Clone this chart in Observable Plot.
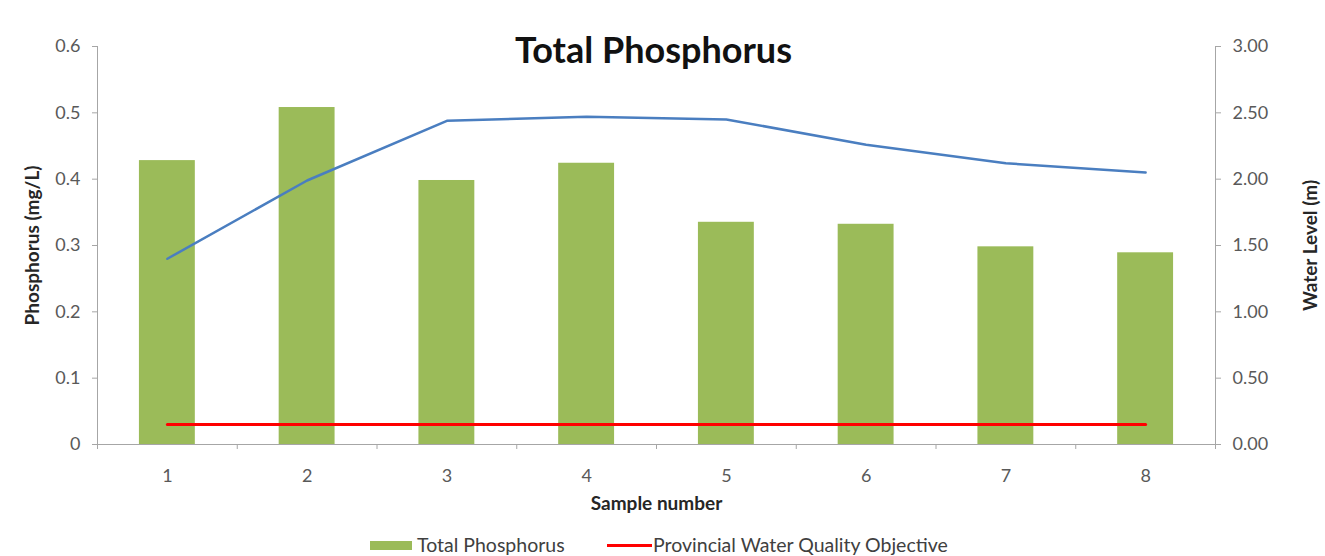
<!DOCTYPE html>
<html>
<head>
<meta charset="utf-8">
<script src="https://cdn.jsdelivr.net/npm/d3@7"></script>
<script src="https://cdn.jsdelivr.net/npm/@observablehq/plot@0.6"></script>
<style>
  html, body { margin: 0; padding: 0; background: #fff; overflow: hidden; }
  #wrap { position: relative; width: 1325px; height: 556px; font-family: Lato, "Open Sans", sans-serif; }
  #chart svg { display: block; }
  #legend { position: relative; width: 1325px; height: 28px; font-size: 19.5px; color: #404040; }
  #legend > * { position: absolute; }
  .sw-bar { left: 370px; top: 13px; width: 42px; height: 9px; background: #9BBB59; }
  .sw-line { left: 607px; top: 16px; width: 45px; height: 3px; background: #FF0000; }
  .t1 { left: 417px; top: 5px; line-height: 24px; }
  .t2 { left: 653px; top: 5px; line-height: 24px; }
</style>
</head>
<body>
<div id="wrap">
  <div id="chart"></div>
  <div id="legend">
    <div class="sw-bar"></div><span class="t1">Total Phosphorus</span>
    <div class="sw-line"></div><span class="t2">Provincial Water Quality Objective</span>
  </div>
</div>
<script>
// ---- data ----
const samples = [1, 2, 3, 4, 5, 6, 7, 8];
const phosphorus = [0.428, 0.508, 0.398, 0.424, 0.335, 0.332, 0.298, 0.289];
const waterLevel = [1.40, 1.99, 2.44, 2.47, 2.45, 2.26, 2.12, 2.05];
const pwqo = [0.03, 0.03, 0.03, 0.03, 0.03, 0.03, 0.03, 0.03];
const leftTicks = [0, 0.1, 0.2, 0.3, 0.4, 0.5, 0.6];
const rightTicks = [0, 0.5, 1.0, 1.5, 2.0, 2.5, 3.0];

const ratio = 0.6 / 3.0; // right axis (m) mapped onto left axis (mg/L)
const data = samples.map((s, i) => ({sample: s, p: phosphorus[i], w: waterLevel[i], obj: pwqo[i]}));
const boundaries = d3.range(samples.length + 1).map(i => samples[0] - 0.5 + i);

const axisColor = "#A6A6A6";
const tickText = "#595959";
const titleText = "#262626";

const chart = Plot.plot({
  width: 1325,
  height: 528,
  marginTop: 46,
  marginBottom: 84,
  marginLeft: 97,
  marginRight: 110,
  x: {type: "linear", domain: [0.5, 8.5]},
  y: {domain: [0, 0.6]},
  style: {fontFamily: "Lato, 'Open Sans', sans-serif", fontSize: "18px", color: tickText, background: "white"},
  marks: [
    Plot.rectY(data, {x1: d => d.sample - 0.2, x2: d => d.sample + 0.2, y: "p", fill: "#9BBB59"}),
    Plot.ruleY([0], {stroke: axisColor, strokeWidth: 1}),
    Plot.ruleX([0.5], {stroke: axisColor, strokeWidth: 1}),
    Plot.ruleX([8.5], {stroke: axisColor, strokeWidth: 1}),
    Plot.lineY(data, {x: "sample", y: "obj", stroke: "#FF0000", strokeWidth: 3}),
    Plot.lineY(data, {x: "sample", y: d => d.w * ratio, stroke: "#4A7EC0", strokeWidth: 2.5}),
    Plot.axisY({anchor: "left", ticks: leftTicks, tickFormat: d => String(d), tickSize: 5, tickPadding: 12, stroke: axisColor, fill: tickText, fontSize: 18, label: null}),
    Plot.axisY({anchor: "right", ticks: rightTicks.map(v => v * ratio), tickFormat: d => (d / ratio).toFixed(2), tickSize: 5, tickPadding: 12, stroke: axisColor, fill: tickText, fontSize: 18, label: null}),
    Plot.axisX({ticks: boundaries, tickFormat: () => "", tickSize: 5, stroke: axisColor, label: null}),
    Plot.axisX({ticks: samples, tickFormat: d => String(d), tickSize: 0, tickPadding: 25, fill: tickText, fontSize: 18, label: null}),
    Plot.text(["Phosphorus (mg/L)"], {frameAnchor: "left", textAnchor: "middle", dx: -65, rotate: -90, fontWeight: "bold", fontSize: 19, fill: titleText}),
    Plot.text(["Water Level (m)"], {frameAnchor: "right", textAnchor: "middle", dx: 95, rotate: -90, fontWeight: "bold", fontSize: 19, fill: titleText}),
    Plot.text(["Sample number"], {frameAnchor: "bottom", dy: 65, fontWeight: "bold", fontSize: 19, fill: titleText}),
    Plot.text(["Total Phosphorus"], {frameAnchor: "top", dx: -3, dy: -9, fontWeight: "bold", fontSize: 36, fill: "#111"})
  ]
});
document.getElementById("chart").appendChild(chart);
</script>
</body>
</html>
